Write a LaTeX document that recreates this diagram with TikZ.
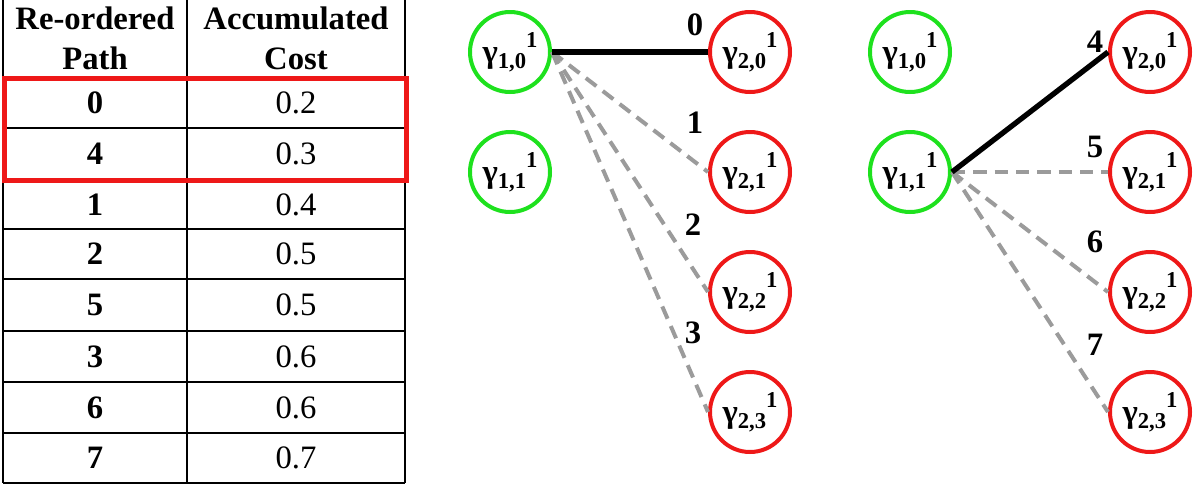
\documentclass[tikz,border=0pt]{standalone}
\usepackage{fontspec}
\setmainfont{Liberation Serif}
\usetikzlibrary{positioning}

\definecolor{startgreen}{RGB}{30,225,30}
\definecolor{endred}{RGB}{238,24,24}
\definecolor{pathgray}{RGB}{155,155,155}

% gamma with lower and upper index
\newcommand{\gam}[1]{\textbf{γ\raisebox{-0.35ex}{\fontsize{17}{17}\selectfont #1}\raisebox{1.05ex}{\fontsize{17}{17}\selectfont 1}}}

\tikzset{
  startnode/.style={circle, draw=startgreen, line width=3pt, minimum size=60pt, inner sep=0pt},
  endnode/.style={circle, draw=endred, line width=3pt, minimum size=60pt, inner sep=0pt},
  chosen/.style={line width=4pt, black},
  option/.style={line width=3pt, pathgray, dash pattern=on 10pt off 6pt},
  idx/.style={font=\fontsize{24.5}{30}\selectfont\bfseries}
}

\begin{document}
\begin{tikzpicture}[x=0.75pt, y=-0.75pt, font=\fontsize{24.5}{30}\selectfont]
  \useasboundingbox (0,0) rectangle (1193,486);

  % table
  \draw[line width=1pt] (3,0) -- (3,483);
  \draw[line width=1pt] (187,0) -- (187,483);
  \draw[line width=1pt] (405,0) -- (405,483);
  \draw[line width=1pt] (3,77) -- (405,77);
  \draw[line width=1pt] (3,128) -- (405,128);
  \draw[line width=1pt] (3,180) -- (405,180);
  \draw[line width=1pt] (3,229) -- (405,229);
  \draw[line width=1pt] (3,279) -- (405,279);
  \draw[line width=1pt] (3,331) -- (405,331);
  \draw[line width=1pt] (3,382) -- (405,382);
  \draw[line width=1pt] (3,433) -- (405,433);
  \draw[line width=1pt] (3,483) -- (405,483);
  \draw[line width=3.75pt, endred] (4,78) rectangle (406,180);

  \node[align=center, idx] (hpath) at (95,38) {Re-ordered\\Path};
  \node[align=center, idx] (hcost) at (296,38) {Accumulated\\Cost};

  \node[idx] (p0) at (95,102.5) {0};
  \node[idx] (p4) at (95,154) {4};
  \node[idx] (p1) at (95,204.5) {1};
  \node[idx] (p2) at (95,254) {2};
  \node[idx] (p5) at (95,305) {5};
  \node[idx] (p3) at (95,356.5) {3};
  \node[idx] (p6) at (95,407.5) {6};
  \node[idx] (p7) at (95,458) {7};

  \node (c0) at (296,102.5) {0.2};
  \node (c4) at (296,154) {0.3};
  \node (c1) at (296,204.5) {0.4};
  \node (c2) at (296,254) {0.5};
  \node (c5) at (296,305) {0.5};
  \node (c3) at (296,356.5) {0.6};
  \node (c6) at (296,407.5) {0.6};
  \node (c7) at (296,458) {0.7};

  % first expansion
  \node[startnode] (A0) at (510,52) {\gam{1,0}};
  \node[startnode] (A1) at (510,172) {\gam{1,1}};
  \node[endnode] (B0) at (750,52) {\gam{2,0}};
  \node[endnode] (B1) at (750,172) {\gam{2,1}};
  \node[endnode] (B2) at (750,292) {\gam{2,2}};
  \node[endnode] (B3) at (750,412) {\gam{2,3}};

  \draw[option] (A0.east) -- (B1.west);
  \draw[option] (A0.east) -- (B2.west);
  \draw[option] (A0.east) -- (B3.west);
  \draw[chosen] (A0.east) -- (B0.west);

  \node[idx] (e0) at (695,25) {0};
  \node[idx] (e1) at (695,123) {1};
  \node[idx] (e2) at (693,225) {2};
  \node[idx] (e3) at (693,333) {3};

  % second expansion
  \node[startnode] (C0) at (910,52) {\gam{1,0}};
  \node[startnode] (C1) at (910,172) {\gam{1,1}};
  \node[endnode] (D0) at (1150,52) {\gam{2,0}};
  \node[endnode] (D1) at (1150,172) {\gam{2,1}};
  \node[endnode] (D2) at (1150,292) {\gam{2,2}};
  \node[endnode] (D3) at (1150,412) {\gam{2,3}};

  \draw[option] (C1.east) -- (D1.west);
  \draw[option] (C1.east) -- (D2.west);
  \draw[option] (C1.east) -- (D3.west);
  \draw[chosen] (C1.east) -- (D0.west);

  \node[idx] (e4) at (1095,42) {4};
  \node[idx] (e5) at (1095,147) {5};
  \node[idx] (e6) at (1095,242) {6};
  \node[idx] (e7) at (1095,345) {7};
\end{tikzpicture}
\end{document}
